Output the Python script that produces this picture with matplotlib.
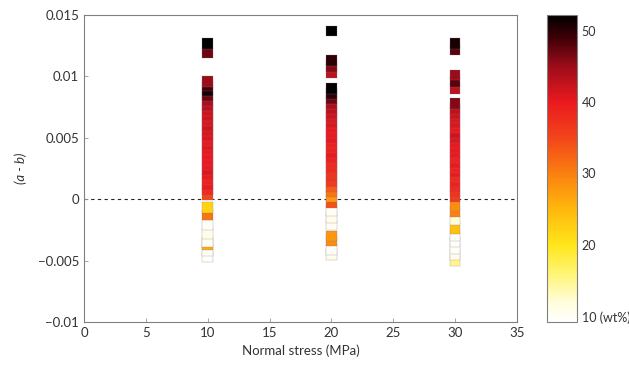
import numpy as np
import matplotlib
matplotlib.use("Agg")
import matplotlib.pyplot as plt
from matplotlib.colors import LinearSegmentedColormap, Normalize

plt.rcParams['font.family'] = ['Lato', 'DejaVu Sans']

# ---- data: (a-b) values and wt% for each normal stress ----
stress_levels = [10, 20, 30]

ab_10 = [0.0127, 0.0119,
         0.0096, 0.0092, 0.0088, 0.0084, 0.0080, 0.0076, 0.0072, 0.0068,
         0.0064, 0.0060, 0.0056, 0.0052, 0.0048, 0.0044, 0.0040, 0.0036,
         0.0032, 0.0028, 0.0024, 0.0020, 0.0016, 0.0012, 0.0008, 0.0004,
         -0.0007, -0.0013, -0.0021, -0.0028, -0.0035, -0.0037, -0.0042, -0.0047]
wt_10 = [52, 47,
         45, 49, 51, 47, 44, 43, 42, 42,
         41, 42, 41, 41, 40, 41, 40, 40,
         40, 40, 41, 40, 39, 40, 38, 35,
         22, 31, 10, 11, 10, 26, 10, 10]

ab_20 = [0.0137,
         0.0113, 0.0108, 0.0103,
         0.0090, 0.0086, 0.0082, 0.0078, 0.0074, 0.0070, 0.0066, 0.0062,
         0.0058, 0.0054, 0.0050, 0.0046, 0.0042, 0.0038, 0.0034, 0.0030,
         0.0026, 0.0022, 0.0018, 0.0014, 0.0010, 0.0006, 0.0002,
         -0.0003, -0.0009, -0.0015, -0.0021, -0.0030, -0.0034, -0.0041, -0.0045]
wt_20 = [52,
         50, 46, 43,
         52, 50, 47, 44, 43, 42, 41, 41,
         40, 40, 40, 39, 39, 40, 39, 38,
         38, 37, 37, 36, 33, 31, 28,
         34, 10, 11, 10, 28, 29, 10, 11]

ab_30 = [0.0127, 0.0122,
         0.0101, 0.0096, 0.0090,
         0.0078, 0.0074, 0.0070, 0.0066, 0.0062, 0.0058, 0.0054, 0.0050,
         0.0046, 0.0042, 0.0038, 0.0034, 0.0030, 0.0026, 0.0022, 0.0018,
         0.0014, 0.0010, 0.0006, 0.0002,
         -0.0005, -0.0010, -0.0017, -0.0024, -0.0030, -0.0035, -0.0040,
         -0.0045, -0.0050]
wt_30 = [51, 48,
         45, 48, 43,
         46, 43, 42, 41, 41, 40, 42, 41,
         40, 40, 40, 39, 40, 39, 40, 38,
         39, 38, 37, 36,
         29, 30, 12, 24, 10, 10, 10, 11, 15]

cbar_ticks = [10, 20, 30, 40, 50]
cbar_labels = ['10 (wt%)', '20', '30', '40', '50']
x_ticks = [0, 5, 10, 15, 20, 25, 30, 35]
y_ticks = [-0.01, -0.005, 0, 0.005, 0.01, 0.015]
y_ticklabels = ['\u22120.01', '\u22120.005', '0', '0.005', '0.01', '0.015']

# ---- colormap (white -> yellow -> orange -> red -> black) ----
vmin, vmax = 9.2, 52.2
anchors = [(9.2, (1.0, 1.0, 1.0)), (12, (1.0, 0.99, 0.85)), (16, (1.0, 0.96, 0.45)),
           (20, (1.0, 0.90, 0.10)), (25, (1.0, 0.72, 0.05)), (30, (0.98, 0.50, 0.06)),
           (35, (0.95, 0.27, 0.10)), (40, (0.92, 0.10, 0.12)), (45, (0.62, 0.05, 0.10)),
           (49, (0.25, 0.0, 0.03)), (52.2, (0.0, 0.0, 0.0))]
cmap = LinearSegmentedColormap.from_list(
    'wt', [((v - vmin) / (vmax - vmin), c) for v, c in anchors])
norm = Normalize(vmin=vmin, vmax=vmax)

fig = plt.figure(figsize=(6.29, 3.69), dpi=100)
ax = fig.add_axes([0.1335, 0.1274, 0.6885, 0.832])
cax = fig.add_axes([0.870, 0.1274, 0.048, 0.832])

ax.axhline(0, color='0.15', lw=0.8, ls=(0, (3, 3)), zorder=1)

sc = None
for x, ab, wt in zip(stress_levels, [ab_10, ab_20, ab_30], [wt_10, wt_20, wt_30]):
    order = np.argsort(ab)
    ab_arr = np.asarray(ab)[order]
    wt_arr = np.asarray(wt)[order]
    sc = ax.scatter(np.full(len(ab_arr), x), ab_arr, c=wt_arr, cmap=cmap, norm=norm,
                    marker='s', s=58, edgecolors=(0.55, 0.45, 0.55, 0.55),
                    linewidths=0.35, zorder=2)

ax.set_xlim(0, 35)
ax.set_ylim(-0.01, 0.015)
ax.set_xticks(x_ticks)
ax.set_yticks(y_ticks)
ax.set_yticklabels(y_ticklabels)
ax.tick_params(direction='in', length=3, width=0.6, colors='0.6', labelcolor='0.2',
               labelsize=9.5)
for s in ax.spines.values():
    s.set_color('0.5')
    s.set_linewidth(0.8)
ax.set_xlabel('Normal stress (MPa)', fontsize=9.5, color='0.2', labelpad=4)
ax.set_ylabel('(a - b)', fontsize=9.5, color='0.2', fontstyle='italic', labelpad=8)

cb = fig.colorbar(sc, cax=cax)
cb.set_ticks(cbar_ticks)
cb.set_ticklabels(cbar_labels)
cb.ax.tick_params(length=0, labelsize=9, labelcolor='0.2', pad=3)
cb.outline.set_edgecolor('0.5')
cb.outline.set_linewidth(0.8)

fig.savefig('out.png', dpi=100)
